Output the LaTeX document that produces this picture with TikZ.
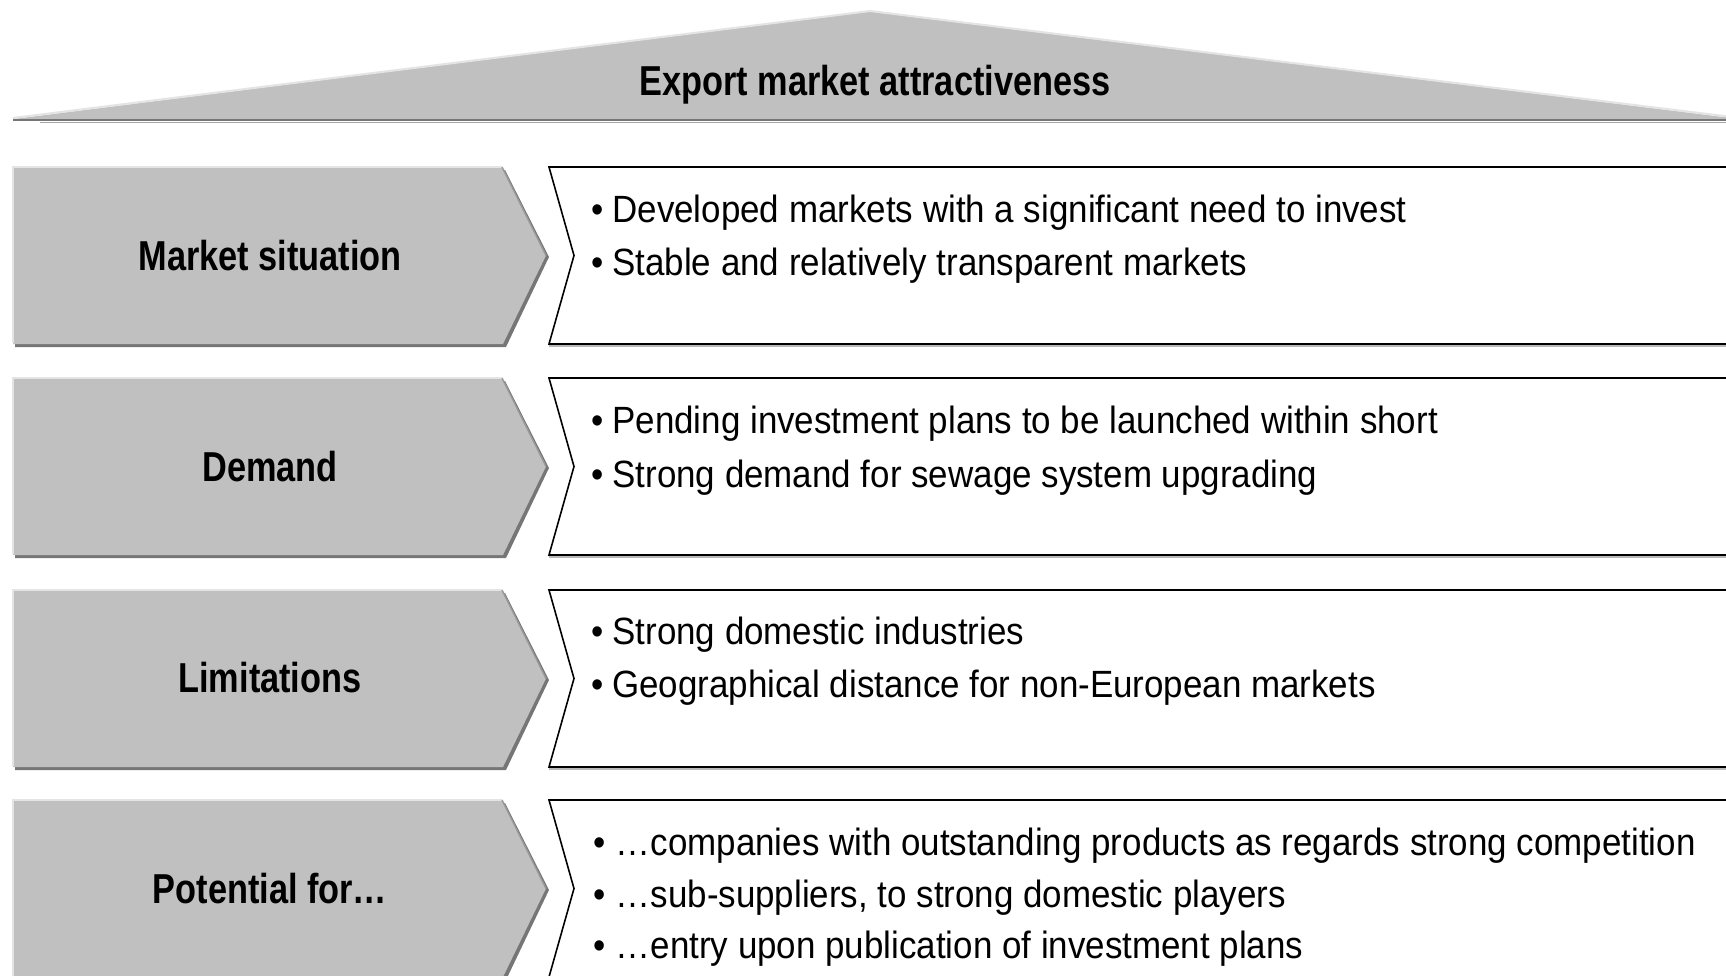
\documentclass[tikz,border=0pt]{standalone}
\usepackage{fontspec}
\setmainfont{Liberation Sans}[FakeStretch=0.92]
\newfontfamily\narrowfont{Liberation Sans}[FakeStretch=0.82]
\usetikzlibrary{positioning}

\definecolor{panelgray}{RGB}{192,192,192}
\definecolor{edgedark}{RGB}{118,118,118}
\definecolor{edgelight}{RGB}{228,228,228}

\tikzset{
  headtext/.style={inner sep=0pt, font=\narrowfont\bfseries\fontsize{11.9}{14}\selectfont},
  itemtext/.style={inner sep=0pt, anchor=base west, font=\fontsize{10.8}{13}\selectfont},
  boxline/.style={draw=black, line width=0.45pt, fill=white},
}

\begin{document}
\begin{tikzpicture}[x=0.01cm, y=-0.01cm]
\useasboundingbox (0,0) rectangle (1726,975);
\clip (0,0) rectangle (1726,975);

% roof
\fill[panelgray] (13,119) -- (870,11) -- (1740,119) -- cycle;
\draw[edgelight, line width=0.6pt] (13,118) -- (870,11) -- (1740,118);
\draw[edgedark, line width=0.6pt] (13,120) -- (1740,120);
\draw[gray!70, line width=0.4pt] (40,122.5) -- (1740,122.5);
\node[headtext, anchor=base] (roof) at (875,95) {Export market attractiveness};

% chevrons and text boxes, one row each
\foreach \t in {167,378,590,800}{
  \begin{scope}[shift={(0,\t)}]
    \fill[edgedark] (15,3) -- (505,3) -- (549,90) -- (506,180) -- (15,180) -- cycle;
    \fill[panelgray] (13,0) -- (502,0) -- (546,88.5) -- (503,177) -- (13,177) -- cycle;
    \draw[edgelight, line width=0.7pt] (13,176) -- (13,0) -- (502,0);
    \draw[gray!80, line width=0.4pt] (502,0) -- (546,88.5);
    \draw[gray!55, line width=0.6pt] (549,1.5) -- (1740,1.5) (549,178.5) -- (1740,178.5);
    \draw[boxline] (549,0) -- (1740,0) -- (1740,177) -- (549,177) -- (574,88.5) -- cycle;
  \end{scope}
}

% row headings
\node[headtext] (market) at (270,256) {Market situation};
\node[headtext] (demand) at (270,467) {Demand};
\node[headtext] (limits) at (270,678) {Limitations};
\node[headtext] (potential) at (270,889) {Potential for…};

% bullet lists
\node[itemtext] (market1) at (591,222) {•\hspace{2.4pt}Developed markets with a significant need to invest};
\node[itemtext] (market2) at (591,275) {•\hspace{2.4pt}Stable and relatively transparent markets};
\node[itemtext] (demand1) at (591,433) {•\hspace{2.4pt}Pending investment plans to be launched within short};
\node[itemtext] (demand2) at (591,487) {•\hspace{2.4pt}Strong demand for sewage system upgrading};
\node[itemtext] (limits1) at (591,644) {•\hspace{2.4pt}Strong domestic industries};
\node[itemtext] (limits2) at (591,697) {•\hspace{2.4pt}Geographical distance for non-European markets};
\node[itemtext] (potential1) at (593,855) {•\hspace{2.8pt}…companies with outstanding products as regards strong competition};
\node[itemtext] (potential2) at (593,907) {•\hspace{2.8pt}…sub-suppliers, to strong domestic players};
\node[itemtext] (potential3) at (593,958) {•\hspace{2.8pt}…entry upon publication of investment plans};
\end{tikzpicture}
\end{document}
